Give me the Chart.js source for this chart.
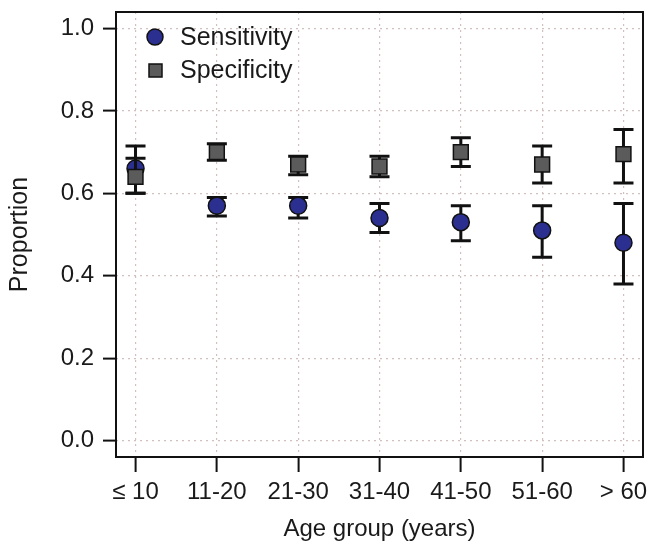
<!DOCTYPE html>
<html>
<head>
<meta charset="utf-8">
<script src="https://cdn.jsdelivr.net/npm/chart.js@4/dist/chart.umd.min.js"></script>
<style>
  body { margin: 0; background: #fff; }
  canvas { display: block; }
</style>
</head>
<body>
<canvas id="age_chart" width="655" height="547"></canvas>
<script>
// age groups and estimates
var categories = ['\u2264 10', '11-20', '21-30', '31-40', '41-50', '51-60', '> 60'];
var sensitivity = [0.66, 0.57, 0.57, 0.54, 0.53, 0.51, 0.48];
var sensLower   = [0.60, 0.545, 0.54, 0.505, 0.485, 0.445, 0.38];
var sensUpper   = [0.715, 0.59, 0.59, 0.575, 0.57, 0.57, 0.575];
var specificity = [0.64, 0.70, 0.67, 0.665, 0.70, 0.67, 0.695];
var specLower   = [0.60, 0.68, 0.645, 0.64, 0.665, 0.625, 0.625];
var specUpper   = [0.685, 0.72, 0.69, 0.69, 0.735, 0.715, 0.755];
var yTicks = [0, 0.2, 0.4, 0.6, 0.8, 1.0];

var FONT = "'Liberation Sans', Arial, sans-serif";
var blue = '#2b2f8f';
var grey = '#5b5b5b';
var ink = '#111';

function points(vals){
    var out = [];
    for(var i=0; i<vals.length; i++){
        out.push({x: i, y: vals[i]});
    }
    return out;
}

// no extra room for the end labels, the plot box is fixed by the layout padding
function noPad(scale){
    scale.paddingTop = 0;
    scale.paddingBottom = 0;
    scale.paddingLeft = 0;
    scale.paddingRight = 0;
}

// error bars are drawn just before each dataset, so markers sit on top
var errorBars = {
    id: 'errorBars',
    beforeDatasetDraw: function(chart, args){
        var ds = chart.data.datasets[args.index];
        if(!ds.lower) return;
        var xs = chart.scales.x, ys = chart.scales.y;
        var ctx = chart.ctx;
        ctx.save();
        ctx.strokeStyle = ink;
        ctx.lineWidth = 3;
        ctx.lineCap = 'butt';
        for(var i=0; i<ds.lower.length; i++){
            var x = xs.getPixelForValue(i);
            var lo = ys.getPixelForValue(ds.lower[i]);
            var hi = ys.getPixelForValue(ds.upper[i]);
            ctx.beginPath();
            ctx.moveTo(x, lo); ctx.lineTo(x, hi);
            ctx.moveTo(x-10, lo); ctx.lineTo(x+10, lo);
            ctx.moveTo(x-10, hi); ctx.lineTo(x+10, hi);
            ctx.stroke();
        }
        ctx.restore();
    }
};

// box round the plot and the legend in the top left corner
var frame = {
    id: 'frame',
    afterDraw: function(chart){
        var ctx = chart.ctx, a = chart.chartArea;
        ctx.save();
        ctx.strokeStyle = ink;
        ctx.lineWidth = 2;
        ctx.strokeRect(a.left, a.top, a.right - a.left, a.bottom - a.top);

        ctx.lineWidth = 1.5;
        ctx.fillStyle = blue;
        ctx.beginPath();
        ctx.arc(155, 37, 8, 0, Math.PI*2);
        ctx.fill(); ctx.stroke();
        ctx.fillStyle = grey;
        ctx.fillRect(149, 64, 13, 13);
        ctx.strokeRect(149, 64, 13, 13);

        ctx.fillStyle = '#1a1a1a';
        ctx.font = '25px ' + FONT;
        ctx.textBaseline = 'middle';
        ctx.fillText('Sensitivity', 180, 38);
        ctx.fillText('Specificity', 180, 71);
        ctx.restore();
    }
};

var ctx = document.getElementById('age_chart').getContext('2d');
var chart = new Chart(ctx, {
    type: 'scatter',
    data: {
        datasets: [{
            label: 'Sensitivity',
            data: points(sensitivity),
            lower: sensLower,
            upper: sensUpper,
            pointStyle: 'circle',
            pointRadius: 8.5,
            backgroundColor: blue,
            borderColor: ink,
            borderWidth: 1.5,
            order: 2
        }, {
            label: 'Specificity',
            data: points(specificity),
            lower: specLower,
            upper: specUpper,
            pointStyle: 'rect',
            pointRadius: 10.5,
            backgroundColor: grey,
            borderColor: ink,
            borderWidth: 1.5,
            order: 1
        }]
    },
    options: {
        responsive: false,
        animation: false,
        layout: { padding: { top: 8, right: 3, left: 0, bottom: 0 } },
        plugins: {
            legend: { display: false },
            tooltip: { enabled: false }
        },
        scales: {
            x: {
                type: 'linear',
                min: -0.24,
                max: 6.24,
                afterBuildTicks: function(scale){
                    scale.ticks = categories.map(function(c, i){ return {value: i}; });
                },
                afterFit: function(scale){ scale.height = 90; noPad(scale); },
                grid: {
                    color: '#d2c0c0',
                    lineWidth: 1.2,
                    tickColor: ink,
                    tickWidth: 2,
                    tickLength: 15,
                    tickBorderDash: []
                },
                border: { display: false, dash: [2, 4] },
                ticks: {
                    autoSkip: false,
                    maxRotation: 0,
                    padding: 6,
                    color: '#1a1a1a',
                    font: { family: FONT, size: 24 },
                    callback: function(v){ return categories[v]; }
                },
                title: {
                    display: true,
                    text: 'Age group (years)',
                    color: '#1a1a1a',
                    font: { family: FONT, size: 24 },
                    padding: { top: 0, bottom: 3 }
                }
            },
            y: {
                min: -0.04,
                max: 1.04,
                afterBuildTicks: function(scale){
                    scale.ticks = yTicks.map(function(v){ return {value: v}; });
                },
                afterFit: function(scale){ scale.width = 116; noPad(scale); },
                grid: {
                    color: '#d2c0c0',
                    lineWidth: 1.2,
                    tickColor: ink,
                    tickWidth: 2,
                    tickLength: 13,
                    tickBorderDash: []
                },
                border: { display: false, dash: [2, 4] },
                ticks: {
                    padding: 9,
                    color: '#1a1a1a',
                    font: { family: FONT, size: 24 },
                    callback: function(v){ return v.toFixed(1); }
                },
                title: {
                    display: true,
                    text: 'Proportion',
                    color: '#1a1a1a',
                    font: { family: FONT, size: 25 },
                    padding: { top: 5, bottom: 0 }
                }
            }
        }
    },
    plugins: [errorBars, frame]
});
</script>
</body>
</html>
